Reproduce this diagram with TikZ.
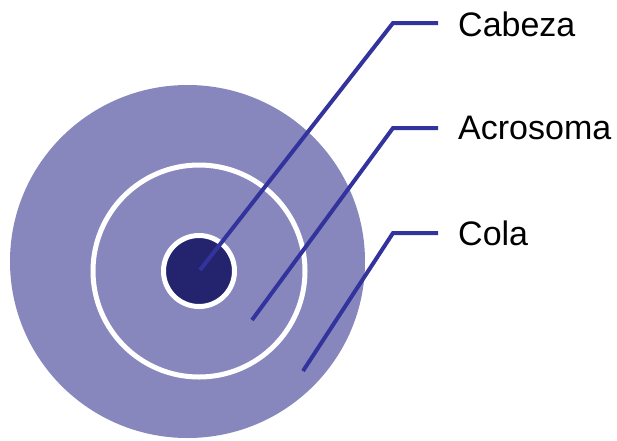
\documentclass[tikz,border=0pt]{standalone}
\usepackage{fontspec}
\setmainfont{Liberation Sans}
\definecolor{outerfill}{RGB}{135,135,189}
\definecolor{corefill}{RGB}{36,36,110}
\definecolor{leader}{RGB}{51,51,158}
\begin{document}
\begin{tikzpicture}[x=1pt,y=-1pt,
  lbl/.style={anchor=base west,inner sep=0pt,font=\fontsize{34}{40}\selectfont},
  leaderline/.style={draw=leader,line width=4pt}]
\useasboundingbox (0,0) rectangle (617,440);
% shapes
\fill[outerfill] (187.5,261.5) ellipse [x radius=177.5, y radius=176.5];
\draw[white,line width=5pt] (199,271) circle [radius=106];
\draw[white,line width=5pt,fill=corefill] (199,271) circle [radius=35.5];
% labels
\node[lbl] (cab) at (458,36) {Cabeza};
\node[lbl] (acr) at (458,139) {Acrosoma};
\node[lbl] (col) at (458,245) {Cola};
% leader points
\coordinate (p1) at (200,270);
\coordinate (e1) at (393,23);
\coordinate (p2) at (252,320);
\coordinate (e2) at (393,128);
\coordinate (p3) at (303,371);
\coordinate (e3) at (393,233);
\draw[leaderline] (p1) -- (e1) -- ([xshift=-20pt]cab.west |- e1);
\draw[leaderline] (p2) -- (e2) -- ([xshift=-20pt]acr.west |- e2);
\draw[leaderline] (p3) -- (e3) -- ([xshift=-20pt]col.west |- e3);
\end{tikzpicture}
\end{document}
